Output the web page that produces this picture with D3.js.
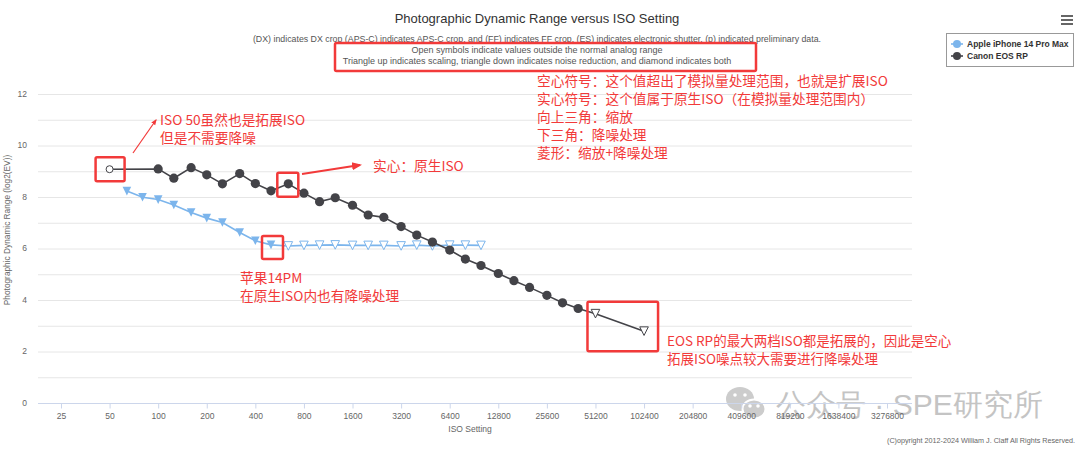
<!DOCTYPE html>
<html>
<head>
<meta charset="utf-8">
<script src="https://cdn.jsdelivr.net/npm/d3@7"></script>
<style>
body { margin: 0; background: #fff; }
text { font-family: "Liberation Sans", Arial, sans-serif; }
.cn { font-family: "Noto Sans CJK SC", sans-serif; fill: #f23a3a; }
</style>
</head>
<body>
<div id="chart"></div>
<script>
var w = 1080;
var h = 451;

// axis ticks
var isoTicks = [25, 50, 100, 200, 400, 800, 1600, 3200, 6400, 12800, 25600, 51200,
    102400, 204800, 409600, 819200, 1638400, 3276800];
var yGridValues = [0, 1, 2, 3, 4, 5, 6, 7, 8, 9, 10, 11, 12];
var yLabelValues = [0, 2, 4, 6, 8, 10, 12];

// Canon EOS RP
var canonIso = [50, 100, 125, 160, 200, 250, 320, 400, 500, 640, 800, 1000, 1250, 1600,
    2000, 2500, 3200, 4000, 5000, 6400, 8000, 10000, 12800, 16000, 20000, 25600, 32000,
    40000, 51200, 102400];
var canonDr = [9.08, 9.09, 8.73, 9.14, 8.86, 8.51, 8.91, 8.52, 8.24, 8.51, 8.15, 7.82, 7.97,
    7.68, 7.30, 7.21, 6.85, 6.52, 6.25, 5.94, 5.59, 5.34, 5.03, 4.75, 4.49, 4.18, 3.89,
    3.67, 3.47, 2.79];
var canonSymbol = ["circle-open", "circle", "circle", "circle", "circle", "circle", "circle",
    "circle", "circle", "circle", "circle", "circle", "circle", "circle", "circle", "circle",
    "circle", "circle", "circle", "circle", "circle", "circle", "circle", "circle", "circle",
    "circle", "circle", "circle", "tri-open", "tri-open"];

// Apple iPhone 14 Pro Max
var iphoneIso = [64, 80, 100, 125, 160, 200, 250, 320, 400, 500, 640, 800, 1000, 1250, 1600,
    2000, 2500, 3200, 4000, 5000, 6400, 8000, 10000];
var iphoneDr = [8.23, 7.99, 7.90, 7.69, 7.40, 7.18, 7.01, 6.62, 6.30, 6.14, 6.10, 6.12, 6.13,
    6.14, 6.12, 6.12, 6.12, 6.10, 6.13, 6.10, 6.13, 6.13, 6.12];
var iphoneSymbol = ["tri", "tri", "tri", "tri", "tri", "tri", "tri", "tri", "tri", "tri",
    "tri-open", "tri-open", "tri-open", "tri-open", "tri-open", "tri-open", "tri-open",
    "tri-open", "tri-open", "tri-open", "tri-open", "tri-open", "tri-open"];

var seriesNames = ["Apple iPhone 14 Pro Max", "Canon EOS RP"];
var seriesColors = ["#7cb5ec", "#434348"];

var titleText = "Photographic Dynamic Range versus ISO Setting";
var subtitleLines = [
    "(DX) indicates DX crop (APS-C) indicates APS-C crop, and (FF) indicates FF crop. (ES) indicates electronic shutter. (p) indicated preliminary data.",
    "Open symbols indicate values outside the normal analog range",
    "Triangle up indicates scaling, triangle down indicates noise reduction, and diamond indicates both"
];
var noteLines = [
    "空心符号：这个值超出了模拟量处理范围，也就是扩展ISO",
    "实心符号：这个值属于原生ISO（在模拟量处理范围内）",
    "向上三角：缩放",
    "下三角：降噪处理",
    "菱形：缩放+降噪处理"
];

var plotLeft = 38, plotRight = 912, plotTop = 94, plotBottom = 403;
var red = "#f23a3a";

var svg = d3.select("#chart").append("svg").attr("width", w).attr("height", h);
svg.append("rect").attr("width", w).attr("height", h).attr("fill", "#fff");

var defs = svg.append("defs");
defs.append("marker").attr("id", "arrow").attr("viewBox", "0 0 10 10")
    .attr("refX", 8).attr("refY", 5).attr("markerWidth", 5).attr("markerHeight", 5)
    .attr("orient", "auto")
    .append("path").attr("d", "M0,1 L10,5 L0,9 Z").attr("fill", red);

var xScale = d3.scaleLog().base(2)
    .domain([25, 3276800])
    .range([61, 887]);

var yScale = d3.scaleLinear()
    .domain([0, 12])
    .range([plotBottom, plotTop]);

// grid
svg.append("g").selectAll("line").data(yGridValues).enter().append("line")
    .attr("x1", plotLeft).attr("x2", plotRight)
    .attr("y1", function (d) { return yScale(d) + 0.5; })
    .attr("y2", function (d) { return yScale(d) + 0.5; })
    .attr("stroke", "#e6e6e6").attr("stroke-width", 1);

// watermark sits under the axis labels
var wm = svg.append("g").attr("opacity", 0.5);
wm.append("ellipse").attr("cx", 740).attr("cy", 399).attr("rx", 14).attr("ry", 12).attr("fill", "#9a9a9a");
wm.append("ellipse").attr("cx", 754).attr("cy", 409).attr("rx", 11.5).attr("ry", 9.5)
    .attr("fill", "#9a9a9a").attr("stroke", "#fff").attr("stroke-width", 2);
[[735, 395], [745, 395], [750, 406], [758, 406]].forEach(function (p) {
    wm.append("circle").attr("cx", p[0]).attr("cy", p[1]).attr("r", 1.8).attr("fill", "#fff");
});
wm.append("text").attr("x", 776).attr("y", 404).attr("dy", "0.35em")
    .attr("font-family", "Noto Sans CJK SC, sans-serif").attr("font-size", "30px")
    .attr("fill", "#8a8a8a").text("公众号 · SPE研究所");

// x axis
var xAxis = d3.axisBottom(xScale).tickValues(isoTicks).tickSize(5).tickSizeOuter(0)
    .tickFormat(function (d) { return d; });
var gx = svg.append("g").attr("transform", "translate(0," + (plotBottom + 0.5) + ")").call(xAxis);
gx.select(".domain").attr("d", "M" + plotLeft + ",0H" + plotRight).attr("stroke", "#ccd6eb");
gx.selectAll(".tick line").attr("stroke", "#ccd6eb");
gx.selectAll(".tick text").attr("fill", "#666").attr("font-size", "8.5px").attr("dy", "0.9em")
    .attr("font-family", "Liberation Sans, Arial, sans-serif");

// y labels
svg.append("g").selectAll("text").data(yLabelValues).enter().append("text")
    .attr("x", 27).attr("y", function (d) { return yScale(d); })
    .attr("dy", "0.35em").attr("text-anchor", "end")
    .attr("fill", "#666").attr("font-size", "8.5px")
    .text(function (d) { return d; });

// axis titles
svg.append("text").attr("x", 470).attr("y", 432).attr("text-anchor", "middle")
    .attr("fill", "#666").attr("font-size", "8.5px").text("ISO Setting");
svg.append("text").attr("transform", "translate(10,230) rotate(-90)")
    .attr("text-anchor", "middle").attr("fill", "#666").attr("font-size", "8.3px")
    .text("Photographic Dynamic Range (log2(EV))");

// title + subtitle
svg.append("text").attr("x", 537).attr("y", 23).attr("text-anchor", "middle")
    .attr("fill", "#333").attr("font-size", "13px").text(titleText);
svg.append("g").selectAll("text").data(subtitleLines).enter().append("text")
    .attr("x", 537).attr("y", function (d, i) { return i === 0 ? 42 : 42.5 + i * 10.8; })
    .attr("text-anchor", "middle").attr("fill", "#555")
    .attr("font-size", function (d, i) { return i === 0 ? "8.8px" : "9px"; })
    .text(function (d) { return d; });

// series
function drawSeries(iso, dr, symbols, color) {
    var pts = iso.map(function (d, i) { return { iso: d, dr: dr[i], sym: symbols[i] }; });
    var line = d3.line()
        .x(function (d) { return xScale(d.iso); })
        .y(function (d) { return yScale(d.dr); });
    svg.append("path").datum(pts).attr("d", line)
        .attr("fill", "none").attr("stroke", color).attr("stroke-width", 1.6);
    var r = 4.3;
    var g = svg.append("g");
    pts.forEach(function (p) {
        var cx = xScale(p.iso), cy = yScale(p.dr);
        var open = p.sym.indexOf("open") >= 0;
        var el;
        if (p.sym.indexOf("circle") === 0) {
            el = g.append("circle").attr("cx", cx).attr("cy", cy).attr("r", open ? 3.5 : 4.6);
        } else {
            el = g.append("path").attr("d", "M" + (cx - r) + "," + (cy - r) + "L" + (cx + r) + "," +
                (cy - r) + "L" + cx + "," + (cy + r) + "Z");
        }
        el.attr("fill", open ? "#fff" : color).attr("stroke", open ? color : "none")
            .attr("stroke-width", 1);
    });
}
drawSeries(iphoneIso, iphoneDr, iphoneSymbol, seriesColors[0]);
drawSeries(canonIso, canonDr, canonSymbol, seriesColors[1]);

// legend
var lg = svg.append("g").attr("transform", "translate(946,33)");
lg.append("rect").attr("x", 0.5).attr("y", 0.5).attr("width", 127).attr("height", 33)
    .attr("fill", "#fff").attr("stroke", "#999");
seriesNames.forEach(function (name, i) {
    var yy = 11 + i * 12;
    lg.append("line").attr("x1", 5).attr("x2", 17).attr("y1", yy).attr("y2", yy)
        .attr("stroke", seriesColors[i]).attr("stroke-width", 1.6);
    lg.append("circle").attr("cx", 11).attr("cy", yy).attr("r", 4).attr("fill", seriesColors[i]);
    lg.append("text").attr("x", 21).attr("y", yy).attr("dy", "0.35em")
        .attr("font-size", "8.5px").attr("font-weight", "bold").attr("fill", "#333").text(name);
});

// menu icon
[0, 4, 8].forEach(function (o) {
    svg.append("line").attr("x1", 1061).attr("x2", 1073).attr("y1", 16 + o).attr("y2", 16 + o)
        .attr("stroke", "#666").attr("stroke-width", 2);
});

// copyright
svg.append("text").attr("x", 1075).attr("y", 443).attr("text-anchor", "end")
    .attr("fill", "#666").attr("font-size", "7.2px")
    .text("(C)opyright 2012-2024 William J. Claff All Rights Reserved.");

// ---- red annotations ----
function box(x1, y1, x2, y2) {
    svg.append("rect").attr("x", x1).attr("y", y1).attr("width", x2 - x1).attr("height", y2 - y1)
        .attr("rx", 1.5).attr("fill", "none").attr("stroke", red).attr("stroke-width", 2.5);
}
function note(x, y, lines, size, step) {
    svg.append("g").selectAll("text").data(lines).enter().append("text")
        .attr("class", "cn").attr("x", x).attr("y", function (d, i) { return y + i * step; })
        .attr("dy", "0.35em").attr("font-size", size + "px")
        .text(function (d) { return d; });
}

box(335, 43, 756, 71);

// ISO 50 of the Canon
box(xScale(50) - 14, yScale(canonDr[0]) - 12, xScale(50) + 15, yScale(canonDr[0]) + 12);
svg.append("line").attr("x1", 133).attr("y1", 153).attr("x2", 156).attr("y2", 120)
    .attr("stroke", red).attr("stroke-width", 1.2).attr("marker-end", "url(#arrow)");
note(160, 120, ["ISO 50虽然也是拓展ISO", "但是不需要降噪"], 13.7, 18);

// Canon ISO 640
box(xScale(640) - 11, yScale(canonDr[9]) - 11, xScale(640) + 10, yScale(canonDr[9]) + 13);
svg.append("line").attr("x1", 302).attr("y1", 174).attr("x2", 360).attr("y2", 165)
    .attr("stroke", red).attr("stroke-width", 2).attr("marker-end", "url(#arrow)");
note(373, 166, ["实心：原生ISO"], 13.7, 18);

// iPhone ISO 500
box(xScale(500) - 9, yScale(iphoneDr[9]) - 9, xScale(500) + 12, yScale(iphoneDr[9]) + 14);
note(240, 278, ["苹果14PM", "在原生ISO内也有降噪处理"], 13.7, 18);

// two extended ISOs of the Canon
box(xScale(51200) - 8, yScale(canonDr[28]) - 12, xScale(102400) + 14, yScale(canonDr[29]) + 20);
note(667, 341, ["EOS RP的最大两档ISO都是拓展的，因此是空心", "拓展ISO噪点较大需要进行降噪处理"], 13.5, 18.5);

note(537, 81, noteLines, 13.7, 18);
</script>
</body>
</html>
